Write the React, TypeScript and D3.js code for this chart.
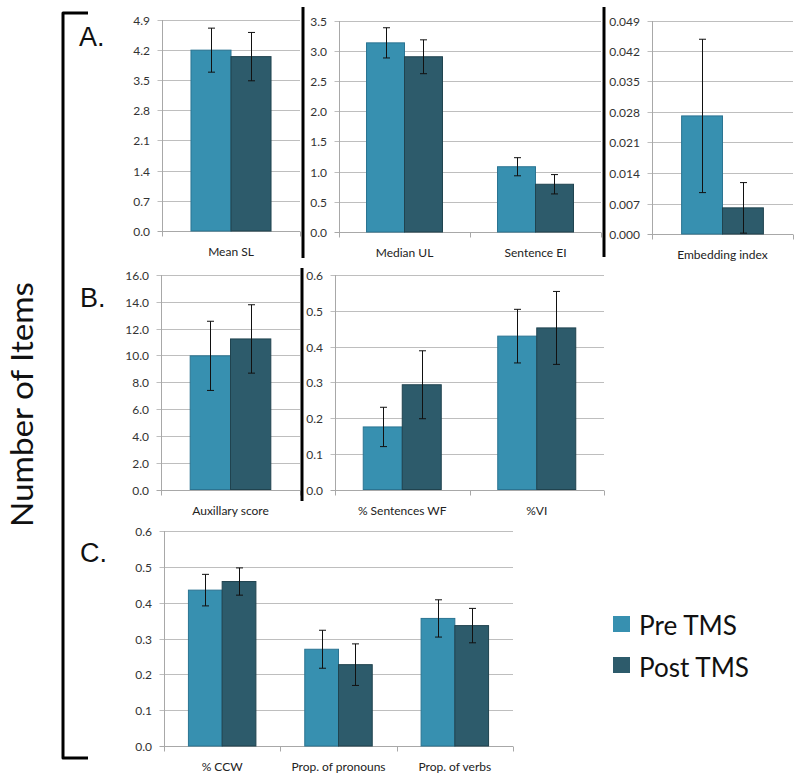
import React from "react";
import * as d3 from "d3";

// ---------- DATA ----------
const catsA1 = ["Mean SL"];
const preA1 = [4.19];
const preErrA1 = [0.51];
const postA1 = [4.04];
const postErrA1 = [0.56];
const ticksA1 = [0, 0.7, 1.4, 2.1, 2.8, 3.5, 4.2, 4.9];

const catsA2 = ["Median UL", "Sentence EI"];
const preA2 = [3.13, 1.08];
const preErrA2 = [0.25, 0.15];
const postA2 = [2.9, 0.79];
const postErrA2 = [0.28, 0.16];
const ticksA2 = [0, 0.5, 1.0, 1.5, 2.0, 2.5, 3.0, 3.5];

const catsA3 = ["Embedding index"];
const preA3 = [0.0271];
const preErrA3 = [0.0176];
const postA3 = [0.006];
const postErrA3 = [0.0058];
const ticksA3 = [0, 0.007, 0.014, 0.021, 0.028, 0.035, 0.042, 0.049];

const catsB1 = ["Auxillary score"];
const preB1 = [9.97];
const preErrB1 = [2.58];
const postB1 = [11.23];
const postErrB1 = [2.55];
const ticksB1 = [0, 2, 4, 6, 8, 10, 12, 14, 16];

const catsB2 = ["% Sentences WF", "%VI"];
const preB2 = [0.175, 0.429];
const preErrB2 = [0.055, 0.075];
const postB2 = [0.293, 0.452];
const postErrB2 = [0.095, 0.102];
const ticksB2 = [0, 0.1, 0.2, 0.3, 0.4, 0.5, 0.6];

const catsC = ["% CCW", "Prop. of pronouns", "Prop. of verbs"];
const preC = [0.435, 0.27, 0.356];
const preErrC = [0.044, 0.053, 0.052];
const postC = [0.459, 0.227, 0.336];
const postErrC = [0.038, 0.058, 0.048];
const ticksC = [0, 0.1, 0.2, 0.3, 0.4, 0.5, 0.6];

const seriesNames = ["Pre TMS", "Post TMS"];
const panelLetters = ["A.", "B.", "C."];
const yTitle = "Number of Items";

// ---------- STYLE ----------
const PRE_FILL = "#3790b0";
const PRE_STROKE = "#2b7492";
const POST_FILL = "#2d5b6b";
const POST_STROKE = "#20434f";
const GRID = "#bebebe";
const AXIS = "#a8a8a8";
const FONT = "Lato, 'Open Sans', sans-serif";

type PanelProps = {
  cats: string[];
  pre: number[];
  preErr: number[];
  post: number[];
  postErr: number[];
  ticks: number[];
  fmt: string;
  x0: number;
  x1: number;
  yTop: number;
  yBot: number;
};

function BarPanel(p: PanelProps) {
  const x = d3.scaleBand<string>().domain(p.cats).range([p.x0, p.x1]);
  const y = d3
    .scaleLinear()
    .domain([0, p.ticks[p.ticks.length - 1]])
    .range([p.yBot, p.yTop]);
  const bw = x.bandwidth();
  const sub = d3
    .scaleBand<string>()
    .domain(["pre", "post"])
    .range([bw * 0.21, bw * 0.79]);
  const f = d3.format(p.fmt);
  const ax = Math.round(p.x0) + 0.5;
  const yb = Math.round(p.yBot) + 0.5;
  const bounds = d3.range(p.cats.length + 1).map((i) => p.x0 + i * bw);

  const series = [
    { key: "pre", vals: p.pre, errs: p.preErr, fill: PRE_FILL, stroke: PRE_STROKE },
    { key: "post", vals: p.post, errs: p.postErr, fill: POST_FILL, stroke: POST_STROKE },
  ];

  return (
    <g>
      {p.ticks.map((t, i) => {
        const yy = Math.round(y(t)) + 0.5;
        return (
          <g key={"g" + i}>
            <line x1={ax - 5} x2={p.x1} y1={yy} y2={yy} stroke={t === 0 ? AXIS : GRID} strokeWidth={1} />
            <text
              x={p.x0 - 12}
              y={yy + 4}
              textAnchor="end"
              fontFamily={FONT}
              fontSize={12}
              fill="#333"
            >
              {f(t)}
            </text>
          </g>
        );
      })}
      <line x1={ax} x2={ax} y1={Math.round(p.yTop)} y2={yb} stroke={AXIS} strokeWidth={1} />
      {bounds.map((bx, i) => (
        <line
          key={"xt" + i}
          x1={Math.round(bx) + 0.5}
          x2={Math.round(bx) + 0.5}
          y1={yb}
          y2={yb + 5}
          stroke={AXIS}
          strokeWidth={1}
        />
      ))}
      {series.map((s) =>
        p.cats.map((c, i) => {
          const bx = (x(c) as number) + (sub(s.key) as number);
          const w = sub.bandwidth();
          const top = y(s.vals[i]);
          return (
            <rect
              key={s.key + c}
              x={bx}
              y={top}
              width={w}
              height={y(0) - top}
              fill={s.fill}
              stroke={s.stroke}
              strokeWidth={1}
            />
          );
        })
      )}
      {series.map((s) =>
        p.cats.map((c, i) => {
          const cx = Math.round((x(c) as number) + (sub(s.key) as number) + sub.bandwidth() / 2) + 0.5;
          const hi = y(s.vals[i] + s.errs[i]);
          const lo = y(Math.max(0, s.vals[i] - s.errs[i]));
          return (
            <g key={"e" + s.key + c} stroke="#111" strokeWidth={1}>
              <line x1={cx} x2={cx} y1={hi} y2={lo} />
              <line x1={cx - 3.5} x2={cx + 3.5} y1={hi} y2={hi} />
              <line x1={cx - 3.5} x2={cx + 3.5} y1={lo} y2={lo} />
            </g>
          );
        })
      )}
      {p.cats.map((c) => (
        <text
          key={"c" + c}
          x={(x(c) as number) + bw / 2}
          y={p.yBot + 25}
          textAnchor="middle"
          fontFamily={FONT}
          fontSize={12}
          fill="#222"
        >
          {c}
        </text>
      ))}
    </g>
  );
}

export default function App() {
  return (
    <svg
      width={800}
      height={778}
      style={{ position: "absolute", left: 0, top: 0, background: "#fff" }}
    >
      <rect x={0} y={0} width={800} height={778} fill="#fff" />

      {/* Panel A */}
      <BarPanel cats={catsA1} pre={preA1} preErr={preErrA1} post={postA1} postErr={postErrA1}
        ticks={ticksA1} fmt=".1f" x0={162} x1={300} yTop={19.5} yBot={231} />
      <BarPanel cats={catsA2} pre={preA2} preErr={preErrA2} post={postA2} postErr={postErrA2}
        ticks={ticksA2} fmt=".1f" x0={339} x1={601} yTop={20.5} yBot={232} />
      <BarPanel cats={catsA3} pre={preA3} preErr={preErrA3} post={postA3} postErr={postErrA3}
        ticks={ticksA3} fmt=".3f" x0={652} x1={793} yTop={20.5} yBot={234} />

      {/* Panel B */}
      <BarPanel cats={catsB1} pre={preB1} preErr={preErrB1} post={postB1} postErr={postErrB1}
        ticks={ticksB1} fmt=".1f" x0={161} x1={300} yTop={275} yBot={489.5} />
      <BarPanel cats={catsB2} pre={preB2} preErr={preErrB2} post={postB2} postErr={postErrB2}
        ticks={ticksB2} fmt=".1f" x0={335} x1={604} yTop={275} yBot={489.5} />

      {/* Panel C */}
      <BarPanel cats={catsC} pre={preC} preErr={preErrC} post={postC} postErr={postErrC}
        ticks={ticksC} fmt=".1f" x0={164} x1={513} yTop={531} yBot={746} />

      {/* thick separators */}
      <g stroke="#000" strokeWidth={3}>
        <line x1={303} x2={303} y1={7} y2={258} />
        <line x1={604} x2={604} y1={7} y2={257} />
        <line x1={302} x2={302} y1={268} y2={501} />
      </g>

      {/* bracket */}
      <path
        d="M88,13 L63,13 L63,758 L88,758"
        fill="none"
        stroke="#000"
        strokeWidth={3}
        strokeLinejoin="round"
      />

      {/* panel letters */}
      {panelLetters.map((l, i) => (
        <text
          key={l}
          x={[79, 80, 80][i]}
          y={[46, 307, 562][i]}
          fontFamily="'Liberation Sans', Arial, sans-serif"
          fontSize={27}
          fill="#111"
        >
          {l}
        </text>
      ))}

      {/* y title */}
      <text
        transform="translate(33,404.5) rotate(-90)"
        textAnchor="middle"
        fontFamily={FONT}
        fontSize={30}
        fill="#111"
        textLength={245}
        lengthAdjust="spacingAndGlyphs"
      >
        {yTitle}
      </text>

      {/* legend */}
      <rect x={613} y={616} width={17} height={16} fill={PRE_FILL} />
      <rect x={613} y={657} width={17} height={16} fill={POST_FILL} />
      <text x={639} y={635} fontFamily={FONT} fontSize={27} fill="#111" textLength={98} lengthAdjust="spacingAndGlyphs">
        {seriesNames[0]}
      </text>
      <text x={639} y={677} fontFamily={FONT} fontSize={27} fill="#111" textLength={110} lengthAdjust="spacingAndGlyphs">
        {seriesNames[1]}
      </text>
    </svg>
  );
}
